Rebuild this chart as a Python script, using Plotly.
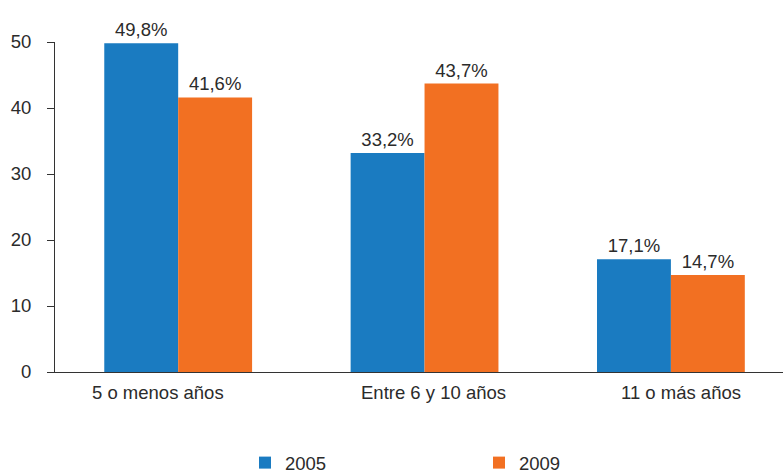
import plotly.graph_objects as go

categories = ["5 o menos años", "Entre 6 y 10 años", "11 o más años"]
years = ["2005", "2009"]
values_2005 = [49.8, 33.2, 17.1]
values_2009 = [41.6, 43.7, 14.7]
y_ticks = [0, 10, 20, 30, 40, 50]

# horizontal nudges (px) of the category labels, as in the original layout
label_shift = [-20, 9, 10]

colors = {"2005": "#1a7bc1", "2009": "#f27022"}
font_family = "Liberation Sans, Arial, sans-serif"
text_color = "#2b2b2b"
fs = 18.5

fig = go.Figure()
for name, vals in zip(years, [values_2005, values_2009]):
    fig.add_trace(go.Bar(
        x=categories, y=vals, name=name,
        marker=dict(color=colors[name], line=dict(width=0)),
        texttemplate="%{y:.1f}%", textposition="outside",
        textfont=dict(size=fs, color=text_color, family=font_family),
        cliponaxis=False,
    ))

for cat, dx in zip(categories, label_shift):
    fig.add_annotation(x=cat, xref="x", y=0, yref="paper", yanchor="top",
                       text=cat, showarrow=False, xshift=dx, yshift=-8,
                       font=dict(size=fs, color=text_color, family=font_family))

fig.update_layout(
    width=783, height=474,
    margin=dict(l=55, r=0, t=42, b=102, autoexpand=False),
    barmode="group", bargap=0.4, bargroupgap=0,
    separators=",.",
    plot_bgcolor="white", paper_bgcolor="white",
    font=dict(family=font_family, size=fs, color=text_color),
    showlegend=True,
    legend=dict(orientation="h", x=0.261, xanchor="left", y=-0.276, yanchor="middle",
                entrywidth=189, entrywidthmode="pixels",
                font=dict(size=fs, color=text_color)),
    xaxis=dict(range=[-0.5, 2.455], showline=True, linecolor="#333", linewidth=1,
               ticks="", showgrid=False, zeroline=False, automargin=False,
               showticklabels=False),
    yaxis=dict(range=[0, 50], tickvals=y_ticks, showline=True, linecolor="#333", linewidth=1,
               ticks="outside", ticklen=7, tickcolor="#333", showgrid=False, zeroline=False,
               ticklabelstandoff=12, automargin=False,
               tickfont=dict(size=fs, color=text_color)),
)

fig.write_html("out.html", config={"displayModeBar": False},
               post_script="document.body.style.margin='0';")
